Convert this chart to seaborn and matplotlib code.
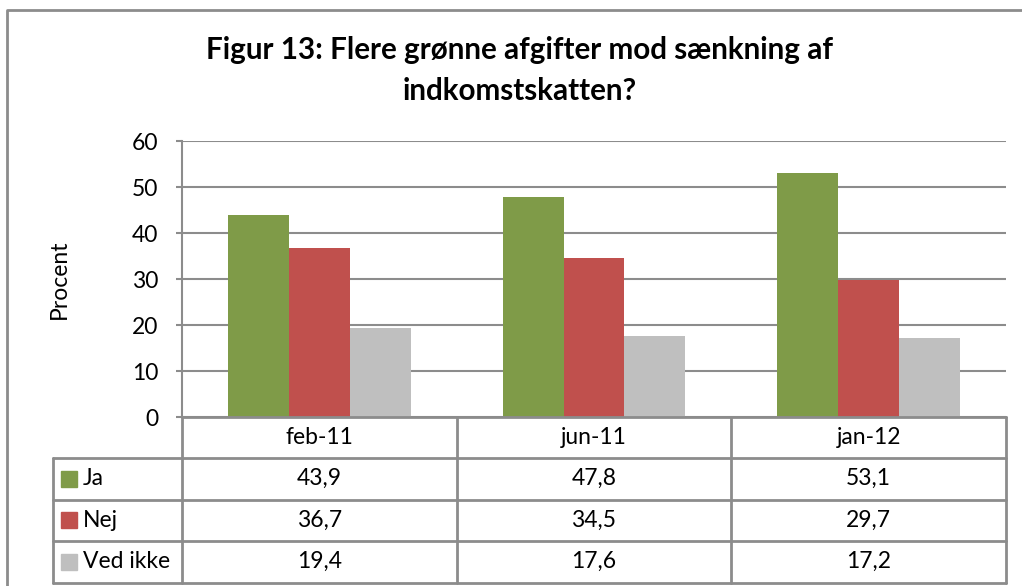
import pandas as pd
import matplotlib
matplotlib.use('Agg')
import matplotlib.pyplot as plt
import seaborn as sns
from matplotlib.patches import Rectangle


# data
perioder = ['feb-11', 'jun-11', 'jan-12']
svar = ['Ja', 'Nej', 'Ved ikke']
ja = [43.9, 47.8, 53.1]
nej = [36.7, 34.5, 29.7]
ved_ikke = [19.4, 17.6, 17.2]
farver = ['#7F9B48', '#C0504D', '#BFBFBF']
yticks = [0, 10, 20, 30, 40, 50, 60]


def main():
    sns.set_theme(style='white')
    plt.rcParams['font.family'] = ['Lato', 'DejaVu Sans']
    plt.rcParams['text.color'] = 'black'
    plt.rcParams['axes.labelcolor'] = 'black'
    plt.rcParams['ytick.color'] = 'black'

    W, H = 1022, 586
    grey = '#8C8C8C'
    fs = 16.5

    df = pd.DataFrame({
        'Periode': perioder * 3,
        'Svar': [s for s in svar for _ in perioder],
        'Procent': ja + nej + ved_ikke,
    })

    fig = plt.figure(figsize=(W / 100, H / 100), dpi=100)
    fig.patch.set_facecolor('white')

    # plot area in pixels: left 182, right 1006, top 141, bottom 417
    ax = fig.add_axes([182 / W, 1 - 417 / H, (1006 - 182) / W, (417 - 141) / H])
    sns.barplot(data=df, x='Periode', y='Procent', hue='Svar', palette=farver,
                width=0.665, saturation=1, linewidth=0, legend=False, ax=ax)
    ax.set_xlim(-0.5, 2.5)
    ax.set_ylim(0, 60)
    ax.set_yticks(yticks)
    ax.set_yticklabels([str(t) for t in yticks], fontsize=fs)
    ax.set_xticks([])
    ax.set_xlabel('')
    ax.set_ylabel('Procent', fontsize=fs, labelpad=45)
    ax.tick_params(axis='y', length=4, width=1.5, color=grey, labelcolor='black',
                   pad=13, direction='out', left=True)
    ax.grid(axis='y', color=grey, linewidth=1.5)
    ax.set_axisbelow(True)
    for side in ['top', 'right', 'bottom']:
        ax.spines[side].set_visible(False)
    ax.spines['left'].set_color(grey)
    ax.spines['left'].set_linewidth(1.5)

    # overlay in pixel coordinates for frame, title and data table
    ov = fig.add_axes([0, 0, 1, 1], facecolor='none')
    ov.set_xlim(0, W)
    ov.set_ylim(H, 0)
    ov.axis('off')

    ov.plot([7, 7, W], [H, 10, 10], color=grey, lw=2, clip_on=False)

    ov.text(520, 50, 'Figur 13: Flere grønne afgifter mod sænkning af',
            ha='center', va='center', fontsize=21.3, fontweight='bold')
    ov.text(520, 91, 'indkomstskatten?', ha='center', va='center',
            fontsize=21.3, fontweight='bold')

    cols = [182, 456.7, 731.3, 1006]
    rows = [417, 458, 499.5, 541, 582.5]
    # header row
    ov.plot([cols[0], cols[-1]], [rows[0], rows[0]], color=grey, lw=2)
    for r in rows[1:]:
        ov.plot([53, cols[-1]], [r, r], color=grey, lw=2)
    for c in cols:
        ov.plot([c, c], [rows[0], rows[-1]], color=grey, lw=2)
    ov.plot([53, 53], [rows[1], rows[-1]], color=grey, lw=2)

    for j, p in enumerate(perioder):
        cx = (cols[j] + cols[j + 1]) / 2
        ov.text(cx, (rows[0] + rows[1]) / 2, p, ha='center', va='center', fontsize=fs)

    vaerdier = [ja, nej, ved_ikke]
    for i, s in enumerate(svar):
        cy = (rows[i + 1] + rows[i + 2]) / 2
        ov.add_patch(Rectangle((61, cy - 8), 16, 16, color=farver[i]))
        ov.text(83, cy, s, ha='left', va='center', fontsize=fs)
        for j in range(len(perioder)):
            cx = (cols[j] + cols[j + 1]) / 2
            ov.text(cx, cy, f'{vaerdier[i][j]:.1f}'.replace('.', ','),
                    ha='center', va='center', fontsize=fs)

    fig.savefig('out.png', dpi=100)


if __name__ == "__main__":
    main()
